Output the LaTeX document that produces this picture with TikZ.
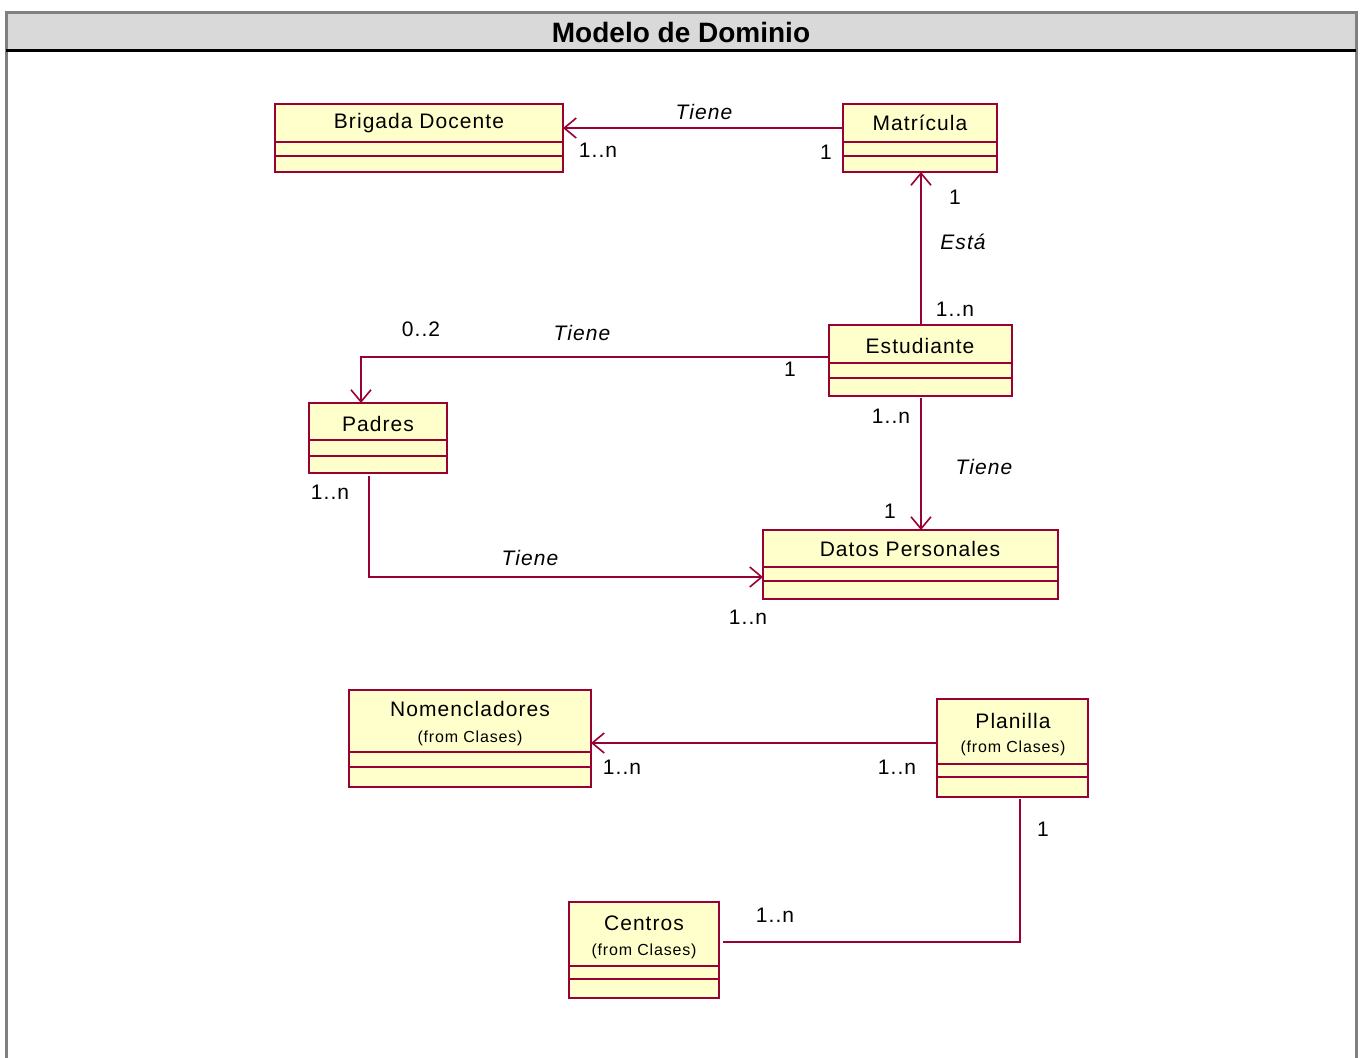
\documentclass[tikz,border=0pt]{standalone}
\usepackage{fontspec}
\setmainfont{Liberation Sans}
\newfontfamily\umlfont[LetterSpace=5]{Liberation Sans}
\usetikzlibrary{arrows.meta}
\definecolor{umlred}{HTML}{990033}
\definecolor{umlfill}{HTML}{FFFFCC}
\definecolor{bandgray}{HTML}{D9D9D9}
\definecolor{framegray}{HTML}{808080}

% class box: name, x1, y1, x2, y2, first divider y, second divider y
\newcommand{\umlclassbox}[7]{%
  \node[classbox, anchor=north west,
        minimum width={(#4-#2)*0.5pt}, minimum height={(#5-#3)*0.5pt}] (#1) at (#2,#3) {};
  \draw[classline] (#2,#6) -- (#4,#6);
  \draw[classline] (#2,#7) -- (#4,#7);
}

\begin{document}
\begin{tikzpicture}[x=0.5pt,y=-0.5pt,
  classbox/.style={draw=umlred, fill=umlfill, line width=1pt, inner sep=0pt, outer sep=0pt},
  classline/.style={draw=umlred, line width=1pt},
  classname/.style={font=\umlfont\fontsize{10.5}{12}\selectfont, inner sep=0pt},
  fromtext/.style={font=\umlfont\fontsize{8}{9}\selectfont, inner sep=0pt},
  assoc/.style={draw=umlred, line width=1pt},
  navig/.style={assoc, -{Straight Barb[length=6pt,width=10pt,line width=0.8pt]}},
  mult/.style={font=\umlfont\fontsize{10.5}{12}\selectfont, inner sep=0pt},
  role/.style={font=\umlfont\itshape\fontsize{10.5}{12}\selectfont, inner sep=0pt},
]
\useasboundingbox (0,0) rectangle (1361,1057);

% frame and title band
\fill[bandgray] (6,12) rectangle (1356,50);
\draw[framegray, line width=1.5pt] (6,1060) -- (6,12) -- (1356,12) -- (1356,1060);
\draw[black, line width=1.5pt] (6,50) -- (1356,50);
\node[font=\bfseries\fontsize{14}{16}\selectfont, inner sep=0pt] (title) at (681,32) {Modelo de Dominio};

% classes
\umlclassbox{brigada}{275}{104}{563}{172}{142}{156}
\node[classname] (brigadaN) at (419,123) {Brigada Docente};
\umlclassbox{matricula}{843}{104}{997}{172}{142}{156}
\node[classname] (matriculaN) at (920,123) {Matrícula};
\umlclassbox{estudiante}{829}{325}{1012}{396}{363}{378}
\node[classname] (estudianteN) at (920,346) {Estudiante};
\umlclassbox{padres}{309}{403}{447}{473}{440}{456}
\node[classname] (padresN) at (378,424) {Padres};
\umlclassbox{datos}{763}{530}{1058}{599}{567}{581}
\node[classname] (datosN) at (910,549) {Datos Personales};
\umlclassbox{nomenc}{349}{690}{591}{787}{752}{767}
\node[classname] (nomencN) at (470,709) {Nomencladores};
\node[fromtext] (nomencF) at (470,738) {(from Clases)};
\umlclassbox{planilla}{937}{699}{1088}{797}{764}{777}
\node[classname] (planillaN) at (1013,721) {Planilla};
\node[fromtext] (planillaF) at (1013,748) {(from Clases)};
\umlclassbox{centros}{569}{902}{719}{998}{966}{979}
\node[classname] (centrosN) at (644,923) {Centros};
\node[fromtext] (centrosF) at (644,951) {(from Clases)};

% routing guides
\coordinate (r1) at (0,128);
\coordinate (r2) at (921,0);
\coordinate (r3) at (361,357);
\coordinate (r5) at (369,577);
\coordinate (r6) at (0,743);
\coordinate (r7) at (1020,942);

% associations
\draw[navig] (matricula.west |- r1) -- (brigada.east |- r1);
\draw[navig] (estudiante.north -| r2) -- (matricula.south -| r2);
\draw[navig] (estudiante.west |- r3) -| (padres.north -| r3);
\draw[navig] ([yshift=-1pt]estudiante.south -| r2) -- (datos.north -| r2);
\draw[navig] ([yshift=-1.5pt]padres.south -| r5) |- (datos.west |- r5);
\draw[navig] (planilla.west |- r6) -- (nomenc.east |- r6);
\draw[assoc] ([yshift=-1pt]planilla.south -| r7) |- ([xshift=2pt]centros.east |- r7);

% association labels
\node[role] (l1) at (704,112) {Tiene};
\node[mult] (m1a) at (598,150) {1..n};
\node[mult] (m1b) at (826,152) {1};
\node[mult] (m2a) at (955,197) {1};
\node[role] (l2) at (963,242) {Está};
\node[mult] (m2b) at (955,309) {1..n};
\node[mult] (m3a) at (421,329) {0..2};
\node[role] (l3) at (582,333) {Tiene};
\node[mult] (m3b) at (790,369) {1};
\node[mult] (m4a) at (891,416) {1..n};
\node[role] (l4) at (984,467) {Tiene};
\node[mult] (m4b) at (890,511) {1};
\node[mult] (m5a) at (330,492) {1..n};
\node[role] (l5) at (530,558) {Tiene};
\node[mult] (m5b) at (748,617) {1..n};
\node[mult] (m6a) at (622,767) {1..n};
\node[mult] (m6b) at (897,767) {1..n};
\node[mult] (m7a) at (1043,829) {1};
\node[mult] (m7b) at (775,915) {1..n};
\end{tikzpicture}
\end{document}
